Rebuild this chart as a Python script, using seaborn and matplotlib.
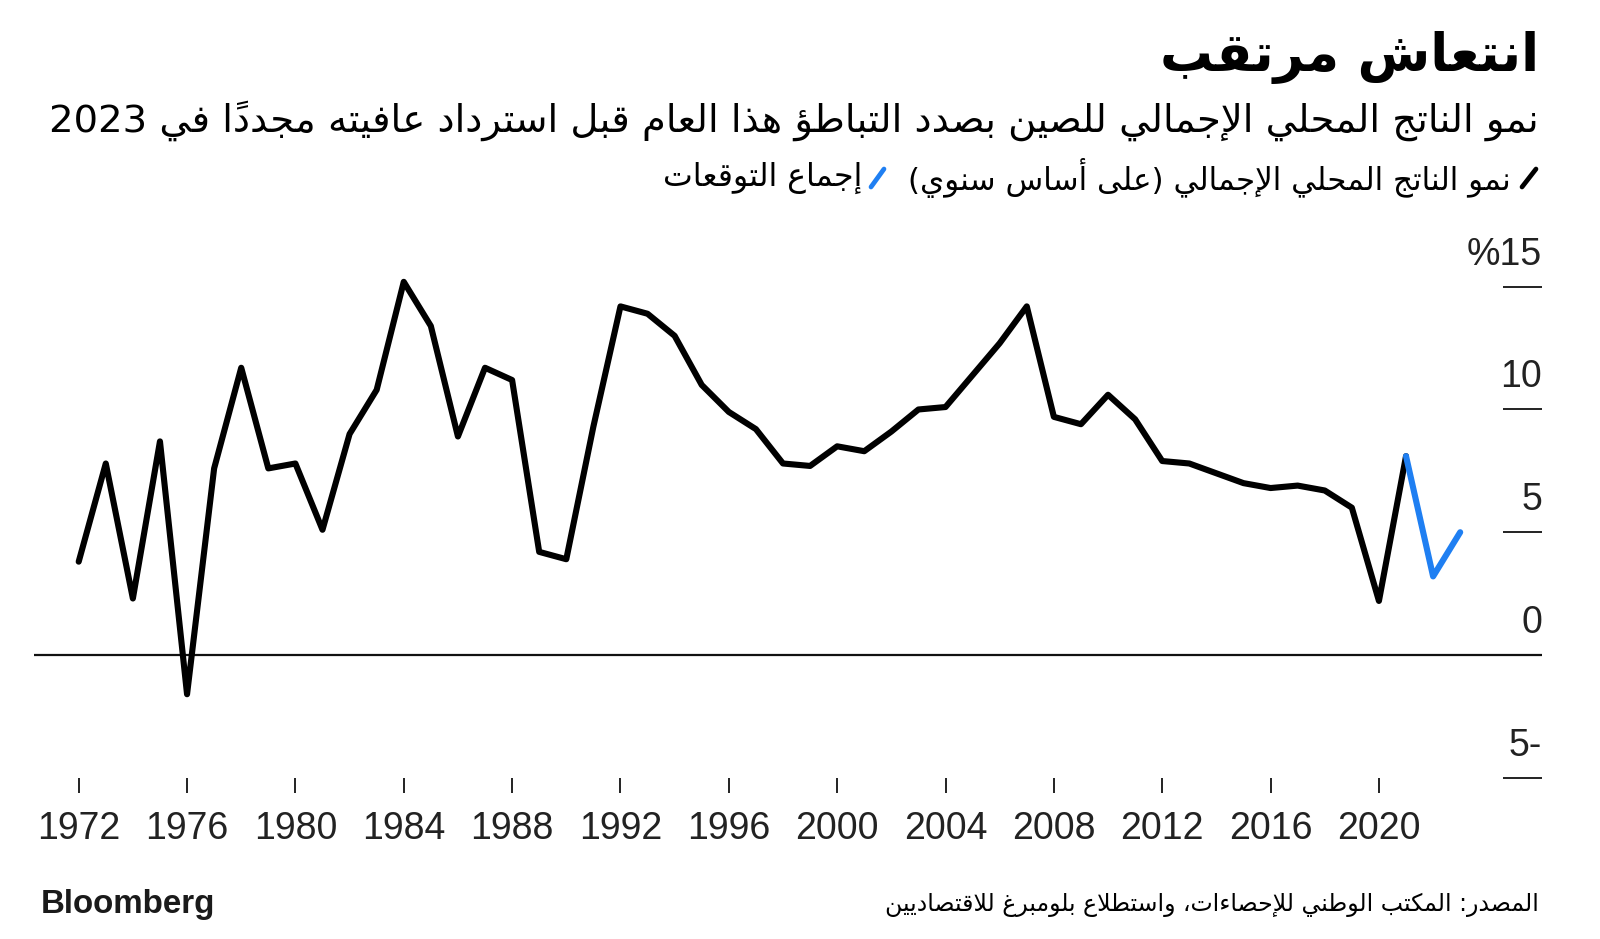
import matplotlib
matplotlib.use("Agg")
import matplotlib.pyplot as plt
from matplotlib.lines import Line2D
from matplotlib.transforms import ScaledTranslation, blended_transform_factory
import seaborn as sns
import pandas as pd

# ---------------- data ----------------
years = list(range(1972, 2022))
gdp_growth = [3.8, 7.8, 2.3, 8.7, -1.6, 7.6, 11.7, 7.6, 7.8, 5.1,
              9.0, 10.8, 15.2, 13.4, 8.9, 11.7, 11.2, 4.2, 3.9, 9.3,
              14.2, 13.9, 13.0, 11.0, 9.9, 9.2, 7.8, 7.7, 8.5, 8.3,
              9.1, 10.0, 10.1, 11.4, 12.7, 14.2, 9.7, 9.4, 10.6, 9.6,
              7.9, 7.8, 7.4, 7.0, 6.8, 6.9, 6.7, 6.0, 2.2, 8.1]
forecast_years = [2021, 2022, 2023]
forecast_values = [8.1, 3.2, 5.0]
xtick_years = list(range(1972, 2021, 4))
ytick_values = [15, 10, 5, 0, -5]
ytick_labels = ["%15", "10", "5", "0", "5-"]

title = "انتعاش مرتقب"
subtitle = "نمو الناتج المحلي الإجمالي للصين بصدد التباطؤ هذا العام قبل استرداد عافيته مجدداً في 2023"
legend_actual = "نمو الناتج المحلي الإجمالي (على أساس سنوي)"
legend_forecast = "إجماع التوقعات"
source = "المصدر: المكتب الوطني للإحصاءات، واستطلاع بلومبرغ للاقتصاديين"
logo = "Bloomberg"

# ------------- Arabic shaping (presentation forms + RTL order) -------------
_AR = {
    0x0621: (0xFE80, 1), 0x0622: (0xFE81, 2), 0x0623: (0xFE83, 2), 0x0624: (0xFE85, 2),
    0x0625: (0xFE87, 2), 0x0626: (0xFE89, 4), 0x0627: (0xFE8D, 2), 0x0628: (0xFE8F, 4),
    0x0629: (0xFE93, 2), 0x062A: (0xFE95, 4), 0x062B: (0xFE99, 4), 0x062C: (0xFE9D, 4),
    0x062D: (0xFEA1, 4), 0x062E: (0xFEA5, 4), 0x062F: (0xFEA9, 2), 0x0630: (0xFEAB, 2),
    0x0631: (0xFEAD, 2), 0x0632: (0xFEAF, 2), 0x0633: (0xFEB1, 4), 0x0634: (0xFEB5, 4),
    0x0635: (0xFEB9, 4), 0x0636: (0xFEBD, 4), 0x0637: (0xFEC1, 4), 0x0638: (0xFEC5, 4),
    0x0639: (0xFEC9, 4), 0x063A: (0xFECD, 4), 0x0641: (0xFED1, 4), 0x0642: (0xFED5, 4),
    0x0643: (0xFED9, 4), 0x0644: (0xFEDD, 4), 0x0645: (0xFEE1, 4), 0x0646: (0xFEE5, 4),
    0x0647: (0xFEE9, 4), 0x0648: (0xFEED, 2), 0x0649: (0xFEEF, 2), 0x064A: (0xFEF1, 4),
}
_LAMALEF = {0x0622: 0xFEF5, 0x0623: 0xFEF7, 0x0625: 0xFEF9, 0x0627: 0xFEFB}


def _shape(s):
    units = []
    i = 0
    while i < len(s):
        c = ord(s[i])
        if c == 0x0644 and i + 1 < len(s) and ord(s[i + 1]) in _LAMALEF:
            units.append({"start": _LAMALEF[ord(s[i + 1])], "n": 2, "marks": ""})
            i += 2
            continue
        if 0x064B <= c <= 0x065F and units:
            units[-1]["marks"] += s[i]
            i += 1
            continue
        if c in _AR:
            st, n = _AR[c]
            units.append({"start": st, "n": n, "marks": ""})
        else:
            units.append({"ch": s[i], "n": 0, "marks": ""})
        i += 1
    out = []
    for k, u in enumerate(units):
        if u["n"] == 0:
            out.append(u["ch"] + u["marks"])
            continue
        prev = units[k - 1] if k > 0 else None
        nxt = units[k + 1] if k + 1 < len(units) else None
        jp = prev is not None and prev["n"] == 4 and u["n"] >= 2
        jn = nxt is not None and u["n"] == 4 and nxt["n"] >= 2
        if u["n"] == 1:
            form = 0
        elif u["n"] == 2:
            form = 1 if jp else 0
        else:
            form = 3 if (jp and jn) else 2 if jn else 1 if jp else 0
        out.append(chr(u["start"] + form) + u["marks"])
    return out


def rtl(s):
    clusters = _shape(s)
    runs = []
    for cl in clusters:
        is_ltr = cl[0].isascii() and cl[0].isalnum()
        if runs and runs[-1][0] == is_ltr:
            runs[-1][1].append(cl)
        else:
            runs.append([is_ltr, [cl]])
    mirror = {"(": ")", ")": "("}
    out = ""
    for is_ltr, cls in reversed(runs):
        if is_ltr:
            out += "".join(cls)
        else:
            out += "".join(mirror.get(c, c) for c in reversed(cls))
    return out


# ---------------- figure ----------------
sns.set_theme(style="white")
plt.rcParams["font.family"] = ["DejaVu Sans"]

W, H = 1600, 939
fig = plt.figure(figsize=(W / 100, H / 100), dpi=100)
fig.patch.set_facecolor("white")

ax = fig.add_axes([34 / W, 1 - 777.7 / H, (1542 - 34) / W, (777.7 - 262.2) / H])
ax.set_facecolor("white")

df_actual = pd.DataFrame({"year": years, "gdp": gdp_growth})
df_fc = pd.DataFrame({"year": forecast_years, "gdp": forecast_values})

ax.axhline(0, color="#111111", lw=1.6, zorder=1)
sns.lineplot(data=df_actual, x="year", y="gdp", color="black", lw=4.4, ax=ax,
             zorder=3, estimator=None)
sns.lineplot(data=df_fc, x="year", y="gdp", color="#1f7ff2", lw=4.4, ax=ax,
             zorder=4, estimator=None)

ax.set_xlim(1970.35, 2026.02)
ax.set_ylim(-5, 16)
for sp in ax.spines.values():
    sp.set_visible(False)
ax.set_xlabel("")
ax.set_ylabel("")

tick_font = ["Liberation Sans Narrow", "Liberation Sans", "DejaVu Sans"]
ax.set_xticks(xtick_years)
ax.set_xticklabels([str(y) for y in xtick_years])
ax.tick_params(axis="x", bottom=True, direction="out", length=10.8, width=1.4,
               color="#222222", pad=13, labelsize=27, labelcolor="#222222")
for lab in ax.get_xticklabels():
    lab.set_family(tick_font)

ax.yaxis.tick_right()
ax.set_yticks(ytick_values)
ax.tick_params(axis="y", right=True, left=False, direction="in", length=28,
               width=1.4, color="#222222", labelright=False, labelleft=False)
ytrans = blended_transform_factory(ax.transAxes, ax.transData) + \
    ScaledTranslation(0, 0.22, fig.dpi_scale_trans)
for v, lab in zip(ytick_values, ytick_labels):
    ax.text(1.0, v, lab, transform=ytrans, ha="right", va="baseline",
            fontsize=27, color="#222222", family=tick_font)

# ---------------- texts ----------------
renderer = fig.canvas.get_renderer()


def fig_text(x_px, y_px, s, target_w, **kw):
    t = fig.text(x_px / W, 1 - y_px / H, s, **kw)
    w = t.get_window_extent(renderer).width
    t.set_fontsize(t.get_fontsize() * target_w / w)
    return t


fig_text(1539, 58, rtl(title), 379, ha="right", va="center", fontsize=30,
         fontweight="bold", color="black")
fig_text(1539, 121, rtl(subtitle), 1496, ha="right", va="center", fontsize=24,
         color="black")
fig_text(1511, 178, rtl(legend_actual), 603, ha="right", va="center", fontsize=18,
         color="black")
fig_text(862, 178, rtl(legend_forecast), 199, ha="right", va="center", fontsize=18,
         color="black")
fig_text(1539, 905, rtl(source), 656, ha="right", va="center", fontsize=15,
         color="black")
fig_text(41, 905, logo, 175, ha="left", va="center", fontsize=22,
         fontweight="heavy", family=["Liberation Sans", "DejaVu Sans"], color="#1a1a1a")

# legend slash icons
for (x0, x1), col in [((1522, 1536), "black"), ((871, 884), "#1f7ff2")]:
    fig.add_artist(Line2D([x0 / W, x1 / W], [1 - 187 / H, 1 - 169 / H],
                          transform=fig.transFigure, color=col, lw=3.4,
                          solid_capstyle="round"))

fig.savefig("out.png", dpi=100, facecolor="white")
